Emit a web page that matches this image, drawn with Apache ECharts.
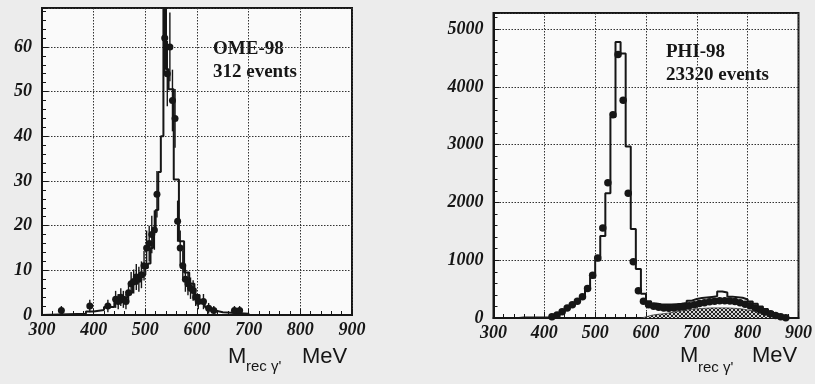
<!DOCTYPE html>
<html>
<head>
<meta charset="utf-8">
<script src="https://cdn.jsdelivr.net/npm/echarts@6/dist/echarts.min.js"></script>
<style>
  html, body { margin: 0; padding: 0; background: #ececec; }
  #chart { width: 815px; height: 384px; }
</style>
</head>
<body>
<div id="chart"></div>
<script>
// Recoil-mass spectra M(rec γ') for two runs: simulated histogram + measured points.

// ---- OME-98 run (312 events) ----
// simulation histogram: bin edges (MeV) and heights
const omeMcEdges = [300, 385, 400, 420, 440, 455, 465, 475, 485, 495, 500, 505, 510, 515, 520, 525, 530, 535, 540, 545,
                    555, 565, 575, 585, 595, 605, 615, 625, 635, 650, 700];
const omeMcValues = [0.3, 0.8, 1.1, 1.8, 2.8, 3.8, 5, 7, 8.5, 9, 10.5, 11.5, 15, 19, 23.5, 32, 40, 75, 55, 50.5,
                     30.3, 16.5, 9.5, 7, 4.5, 2.8, 1.8, 1.0, 0.6, 0.3];
// measured points: bin centre (MeV), count, error
const omeMass = [337.5, 392.5, 427.5, 442.5, 447.5, 452.5, 457.5, 462.5, 467.5, 472.5,
                 477.5, 482.5, 487.5, 492.5, 497.5, 502.5, 507.5, 512.5, 517.5, 522.5,
                 537.5, 542.5, 547.5, 552.5, 557.5, 562.5, 567.5, 572.5, 577.5, 582.5,
                 587.5, 592.5, 597.5, 602.5, 612.5, 622.5, 632.5, 672.5, 682.5];
const omeCounts = [1, 2, 2, 3.5, 3, 4, 3.5, 3, 5, 7,
                   7.5, 8.5, 8, 9, 11, 15, 16, 18, 19, 27,
                   62, 54, 60, 48, 44, 21, 15, 11, 8, 7,
                   6, 5.5, 4, 3, 3, 1.5, 1, 1, 1];
const omeErrors = [1, 1.4, 1.4, 1.9, 1.7, 2, 1.9, 1.7, 2.2, 2.6,
                   2.7, 2.9, 2.8, 3, 3.3, 3.9, 4, 4.2, 4.4, 5.2,
                   7.9, 7.3, 7.7, 6.9, 6.6, 4.6, 3.9, 3.3, 2.8, 2.6,
                   2.4, 2.3, 2, 1.7, 1.7, 1.2, 1, 1, 1];

// ---- PHI-98 run (23320 events) ----
const phiBinWidth = 10;
const phiMcStart = 350;
const phiMcValues = [10, 10, 10, 10, 10,
                     15, 30, 55, 100, 160, 220, 280, 360, 490, 700,
                     1000, 1420, 2160, 3480, 4780, 4580, 2970, 1540, 850, 420,
                     290, 250, 240, 235, 235, 240, 245, 260, 300, 330,
                     345, 355, 365, 375, 460, 440, 370, 360, 350, 320,
                     285, 245, 200, 155, 110, 65, 35, 10];
// background contribution (hatched)
const phiBkgStart = 590;
const phiBkgValues = [20, 45, 60, 70, 80, 95, 110, 125, 140, 150,
                      160, 165, 170, 175, 175, 175, 175, 170, 165, 155,
                      140, 125, 110, 90, 70, 50, 25];
const phiMass = [415, 425, 435, 445, 455, 465, 475, 485, 495, 505,
                 515, 525, 535, 545, 555, 565, 575, 585, 595, 605,
                 615, 625, 635, 645, 655, 665, 675, 685, 695, 705,
                 715, 725, 735, 745, 755, 765, 775, 785, 795, 805,
                 815, 825, 835, 845, 855, 865, 875];
const phiCounts = [20, 50, 110, 175, 230, 290, 370, 510, 740, 1040,
                   1560, 2340, 3520, 4560, 3770, 2160, 975, 470, 290, 230,
                   205, 185, 175, 170, 175, 185, 195, 210, 230, 250,
                   265, 280, 290, 300, 300, 295, 285, 265, 240, 210,
                   175, 140, 105, 75, 45, 20, 5];

const xTicks = { min: 300, max: 900, step: 100 };

// ---- helpers ----
function regularEdges(start, width, n) {
  const e = [];
  for (let i = 0; i <= n; i++) e.push(start + i * width);
  return e;
}
function stepPoints(edges, values) {
  const pts = [[edges[0], 0]];
  for (let i = 0; i < values.length; i++) pts.push([edges[i], values[i]]);
  pts.push([edges[values.length], 0]);
  return pts;
}
function zip(a, b, c) {
  return a.map((v, i) => c ? [v, b[i], c[i]] : [v, b[i]]);
}
function hatchPattern() {
  const c = document.createElement('canvas');
  c.width = 4; c.height = 4;
  const g = c.getContext('2d');
  g.fillStyle = '#d4d4d4';
  g.fillRect(0, 0, 4, 4);
  g.strokeStyle = '#222';
  g.lineWidth = 1;
  g.beginPath();
  g.moveTo(0, 4); g.lineTo(4, 0);
  g.moveTo(0, 0); g.lineTo(4, 4);
  g.stroke();
  return c;
}

const ink = '#161616';
// bold italic serif numerals on both axes
const tickText = {
  fontFamily: 'Liberation Serif', fontStyle: 'italic', fontWeight: 'bold',
  fontSize: 18, color: ink
};
const gridDots = { color: '#333', width: 1, type: [1.5, 1.5] };

function tickLabel(margin, hideMax) {
  return {
    margin: margin,
    showMaxLabel: hideMax ? false : null,
    formatter: v => '{n|' + v + '}',
    rich: { n: tickText }
  };
}

function xAxisFor(gi) {
  return {
    type: 'value', gridIndex: gi, min: xTicks.min, max: xTicks.max, interval: xTicks.step,
    axisLine: { show: true, lineStyle: { color: ink, width: 2 } },
    axisTick: { show: true, inside: true, length: 6, lineStyle: { color: ink, width: 1 } },
    minorTick: { show: true, splitNumber: 5, length: 4, lineStyle: { color: ink, width: 1 } },
    splitLine: { show: true, lineStyle: gridDots },
    axisLabel: tickLabel(6, false)
  };
}
function yAxisFor(gi, max, step) {
  return {
    type: 'value', gridIndex: gi, min: 0, max: max, interval: step,
    axisLine: { show: true, lineStyle: { color: ink, width: 2 } },
    axisTick: { show: true, inside: true, length: 6, lineStyle: { color: ink, width: 1 } },
    minorTick: { show: true, splitNumber: 5, length: 4, lineStyle: { color: ink, width: 1 } },
    splitLine: { show: true, lineStyle: gridDots },
    axisLabel: tickLabel(10, true)
  };
}

function errorBars(xi, yi, data) {
  return {
    type: 'custom', xAxisIndex: xi, yAxisIndex: yi, clip: true, z: 4,
    data: data,
    renderItem: function (params, api) {
      const x = api.value(0), y = api.value(1), e = api.value(2);
      const top = api.coord([x, y + e]);
      const bot = api.coord([x, Math.max(0, y - e)]);
      return {
        type: 'line',
        shape: { x1: top[0], y1: top[1], x2: bot[0], y2: bot[1] },
        style: { stroke: ink, lineWidth: 1.4 }
      };
    }
  };
}

const phiMcEdges = regularEdges(phiMcStart, phiBinWidth, phiMcValues.length);
const phiBkgEdges = regularEdges(phiBkgStart, phiBinWidth, phiBkgValues.length);

const titleFont = 'bold 19px "Liberation Serif"';
const nameFont = '22px "Liberation Sans"';
const subFont = '15px "Liberation Sans"';

function txt(text, x, y, font) {
  return {
    type: 'text', x: x, y: y, silent: true,
    style: { text: text, font: font, fill: ink, textAlign: 'left', textVerticalAlign: 'middle' }
  };
}

const chart = echarts.init(document.getElementById('chart'));
chart.setOption({
  animation: false,
  backgroundColor: '#ececec',
  grid: [
    { left: 42, top: 8, width: 310, height: 307, show: true, backgroundColor: '#fafafa', borderColor: ink, borderWidth: 2 },
    { left: 493.5, top: 13, width: 311, height: 305, show: true, backgroundColor: '#fafafa', borderColor: ink, borderWidth: 2 }
  ],
  xAxis: [xAxisFor(0), xAxisFor(1)],
  yAxis: [yAxisFor(0, 68.7, 10), yAxisFor(1, 5280, 1000)],
  series: [
    {
      type: 'line', xAxisIndex: 0, yAxisIndex: 0, step: 'end', showSymbol: false, clip: true, z: 3,
      data: stepPoints(omeMcEdges, omeMcValues),
      lineStyle: { color: ink, width: 2 }
    },
    errorBars(0, 0, zip(omeMass, omeCounts, omeErrors)),
    {
      type: 'scatter', xAxisIndex: 0, yAxisIndex: 0, symbol: 'circle', symbolSize: 7, z: 5,
      data: zip(omeMass, omeCounts),
      itemStyle: { color: ink, opacity: 1 }
    },
    {
      type: 'line', xAxisIndex: 1, yAxisIndex: 1, step: 'end', showSymbol: false, clip: true, z: 2,
      data: stepPoints(phiBkgEdges, phiBkgValues),
      lineStyle: { color: '#333', width: 0.8 },
      areaStyle: { color: { image: hatchPattern(), repeat: 'repeat' }, opacity: 1 }
    },
    {
      type: 'line', xAxisIndex: 1, yAxisIndex: 1, step: 'end', showSymbol: false, clip: true, z: 3,
      data: stepPoints(phiMcEdges, phiMcValues),
      lineStyle: { color: ink, width: 2 }
    },
    {
      type: 'scatter', xAxisIndex: 1, yAxisIndex: 1, symbol: 'circle', symbolSize: 7.5, z: 5,
      data: zip(phiMass, phiCounts),
      itemStyle: { color: ink, opacity: 1 }
    }
  ],
  graphic: [
    txt('OME-98', 213, 49, titleFont),
    txt('312 events', 213, 72, titleFont),
    txt('PHI-98', 666, 52, titleFont),
    txt('23320 events', 666, 75, titleFont),
    txt('M', 228, 357, nameFont),
    txt("rec γ'", 246, 367, subFont),
    txt('MeV', 302, 357, nameFont),
    txt('M', 680, 356, nameFont),
    txt("rec γ'", 698, 368, subFont),
    txt('MeV', 752, 356, nameFont)
  ]
});
</script>
</body>
</html>
